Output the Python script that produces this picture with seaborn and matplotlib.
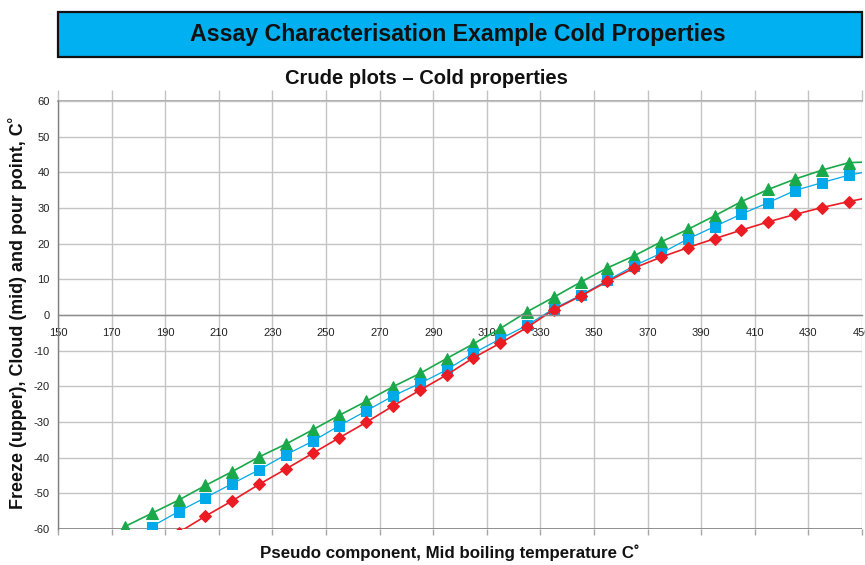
import matplotlib
matplotlib.use("Agg")
import matplotlib.pyplot as plt
import seaborn as sns
import pandas as pd
from matplotlib.patches import Rectangle
from matplotlib import font_manager

# ---------------- data ----------------
temps = [175, 185, 195, 205, 215, 225, 235, 245, 255, 265, 275, 285, 295, 305,
         315, 325, 335, 345, 355, 365, 375, 385, 395, 405, 415, 425, 435, 445, 455]
freeze = [-59.3, -55.6, -51.9, -47.8, -43.9, -39.8, -36.2, -32.2, -28.1, -24.2,
          -20.1, -16.4, -12.2, -8.1, -3.8, 0.9, 5.0, 9.2, 13.2, 16.6, 20.5, 24.0,
          27.8, 31.8, 35.2, 38.1, 40.6, 42.7, 43.0]
cloud = [-63.5, -59.3, -55.1, -51.2, -47.3, -43.4, -39.2, -35.4, -31.0, -26.9,
         -22.7, -19.2, -15.4, -10.7, -6.7, -2.9, 1.8, 5.5, 9.7, 13.8, 17.3, 21.3,
         24.8, 28.3, 31.5, 34.9, 37.1, 39.2, 40.6]
pour = [None, None, -61.0, -56.4, -52.1, -47.5, -43.2, -38.8, -34.4, -30.1,
        -25.5, -21.1, -16.8, -12.0, -7.9, -3.5, 1.5, 5.3, 9.4, 13.2, 16.2, 18.9,
        21.4, 23.8, 26.1, 28.2, 30.1, 31.8, 33.3]
xticks = list(range(150, 451, 20))
yticks = list(range(-60, 61, 10))

df = pd.DataFrame({"T": temps, "freeze": freeze, "cloud": cloud, "pour": pour})

sns.set_theme(style="white")
names = {f.name for f in font_manager.fontManager.ttflist}
base = "Liberation Sans" if "Liberation Sans" in names else "DejaVu Sans"
plt.rcParams["font.family"] = [base, "DejaVu Sans"]
plt.rcParams["axes.unicode_minus"] = False

fig = plt.figure(figsize=(8.65, 5.65), dpi=100)
ax = fig.add_axes([58 / 865, 1 - 529 / 565, 804 / 865, 428 / 565])

GREEN = "#19a84a"
BLUE = "#00a9ea"
RED = "#ec1c24"

sns.lineplot(data=df, x="T", y="freeze", ax=ax, color=GREEN, linewidth=1.2,
             marker="^", markersize=8, markeredgecolor=GREEN, markerfacecolor=GREEN)
sns.lineplot(data=df, x="T", y="cloud", ax=ax, color=BLUE, linewidth=0.9,
             marker="s", markersize=7.5, markeredgecolor=BLUE, markerfacecolor=BLUE)
sns.lineplot(data=df.dropna(), x="T", y="pour", ax=ax, color=RED, linewidth=1.2,
             marker="D", markersize=6, markeredgecolor=RED, markerfacecolor=RED)

ax.set_xlim(150, 450)
ax.set_ylim(-60, 60)
ax.set_xticks(xticks)
ax.set_yticks(yticks)
ax.set_xlabel("")
ax.set_ylabel("")

ax.grid(True, color="#c4c4c4", linewidth=1.0)
ax.set_axisbelow(True)

for s in ["top", "right"]:
    ax.spines[s].set_visible(False)
ax.spines["left"].set_color("#7f7f7f")
ax.spines["left"].set_linewidth(1.0)
ax.spines["bottom"].set_position(("data", 0))
ax.spines["bottom"].set_color("#8c8c8c")
ax.spines["bottom"].set_linewidth(1.0)
ax.axhline(-60, color="#7f7f7f", linewidth=1.2, zorder=1)

ax.tick_params(axis="x", length=0, pad=9, labelsize=8, labelcolor="#222222")
ax.tick_params(axis="y", length=0, pad=6, labelsize=8, labelcolor="#222222")

# tick extensions at top and bottom borders
sec_top = ax.secondary_xaxis("top")
sec_top.set_xticks(xticks)
sec_top.tick_params(length=8, color="#c4c4c4", width=1.0, labeltop=False)
sec_top.spines["top"].set_color("#a6a6a6")
sec_bot = ax.secondary_xaxis("bottom")
sec_bot.set_xticks(xticks)
sec_bot.tick_params(length=4, color="#a6a6a6", width=1.0, labelbottom=False)
sec_bot.spines["bottom"].set_visible(False)

# banner
fig.patches.append(Rectangle((58 / 865, 1 - 57 / 565), 804 / 865, 45 / 565,
                             transform=fig.transFigure, facecolor="#00b0f0",
                             edgecolor="#111111", linewidth=1.6, zorder=0))
fig.text(458 / 865, 1 - 35 / 565, "Assay Characterisation Example Cold Properties",
         ha="center", va="center", fontsize=16.7, fontweight="bold", color="#111111")
fig.text(426 / 865, 1 - 78 / 565, "Crude plots \u2013 Cold properties",
         ha="center", va="center", fontsize=14.5, fontweight="bold", color="#111111")
fig.text(450 / 865, 1 - 553 / 565, "Pseudo component, Mid boiling temperature C\u02da",
         ha="center", va="center", fontsize=12.2, fontweight="bold", color="#111111")
fig.text(18 / 865, 1 - 313 / 565, "Freeze (upper), Cloud (mid) and pour point, C\u02da",
         ha="center", va="center", rotation=90, fontsize=12.9, fontweight="bold",
         color="#111111")

fig.savefig("out.png", dpi=100)
